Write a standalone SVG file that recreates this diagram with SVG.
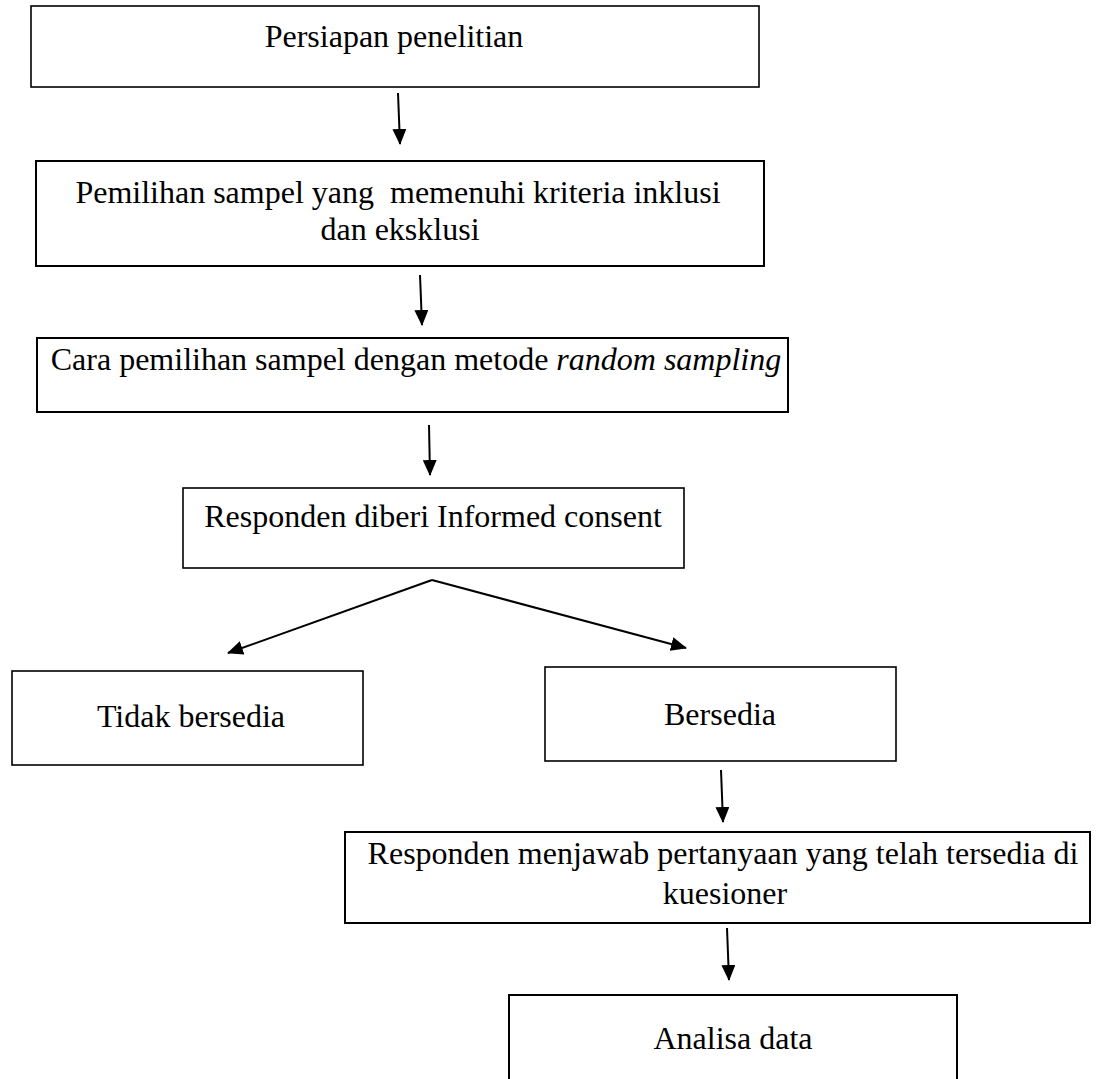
<svg xmlns="http://www.w3.org/2000/svg" width="1116" height="1079" viewBox="0 0 1116 1079">
<defs>
<style>
.box{fill:#fff;stroke:#000;stroke-width:1.6}
.t{font-family:"Liberation Serif","Times New Roman",serif;font-size:32px;fill:#000;text-anchor:middle;white-space:pre}
.c{stroke:#000;stroke-width:2;fill:none}
</style>
<marker id="ah" markerWidth="8" markerHeight="7" refX="7.5" refY="3.5" orient="auto" markerUnits="strokeWidth">
<path d="M0,0 L8,3.5 L0,7 Z" fill="#000"/>
</marker>
</defs>
<rect width="1116" height="1079" fill="#fff"/>
<g id="n1"><rect class="box" x="31" y="6" width="728" height="81"/><text class="t" x="394" y="47">Persiapan penelitian</text></g>
<g id="n2"><rect class="box" x="36" y="161" width="728" height="105" style="stroke-width:2"/><text class="t" x="398" y="203" xml:space="preserve">Pemilihan sampel yang  memenuhi kriteria inklusi</text><text class="t" x="400" y="240">dan eksklusi</text></g>
<g id="n3"><rect class="box" x="37" y="338" width="751" height="74" style="stroke-width:2"/><text class="t" x="416" y="370">Cara pemilihan sampel dengan metode <tspan font-style="italic">random sampling</tspan></text></g>
<g id="n4"><rect class="box" x="183" y="488" width="501" height="80"/><text class="t" x="433" y="527">Responden diberi Informed consent</text></g>
<g id="n5"><rect class="box" x="12" y="671" width="351" height="94"/><text class="t" x="191" y="727">Tidak bersedia</text></g>
<g id="n6"><rect class="box" x="545" y="667" width="351" height="94"/><text class="t" x="720" y="725">Bersedia</text></g>
<g id="n7"><rect class="box" x="345" y="832" width="745" height="91" style="stroke-width:2"/><text class="t" x="723" y="864">Responden menjawab pertanyaan yang telah tersedia di</text><text class="t" x="725" y="904">kuesioner</text></g>
<g id="n8"><rect class="box" x="509" y="995" width="448" height="100" style="stroke-width:2"/><text class="t" x="733" y="1049">Analisa data</text></g>
<g id="connectors">
<line class="c" x1="398" y1="93" x2="400" y2="144" marker-end="url(#ah)"/>
<line class="c" x1="420" y1="275" x2="422" y2="325" marker-end="url(#ah)"/>
<line class="c" x1="429" y1="425" x2="430" y2="475" marker-end="url(#ah)"/>
<line class="c" x1="432" y1="580" x2="228" y2="653" marker-end="url(#ah)"/>
<line class="c" x1="432" y1="580" x2="686" y2="648" marker-end="url(#ah)"/>
<line class="c" x1="721" y1="770" x2="723" y2="822" marker-end="url(#ah)"/>
<line class="c" x1="727" y1="928" x2="729" y2="980" marker-end="url(#ah)"/>
</g>
</svg>
